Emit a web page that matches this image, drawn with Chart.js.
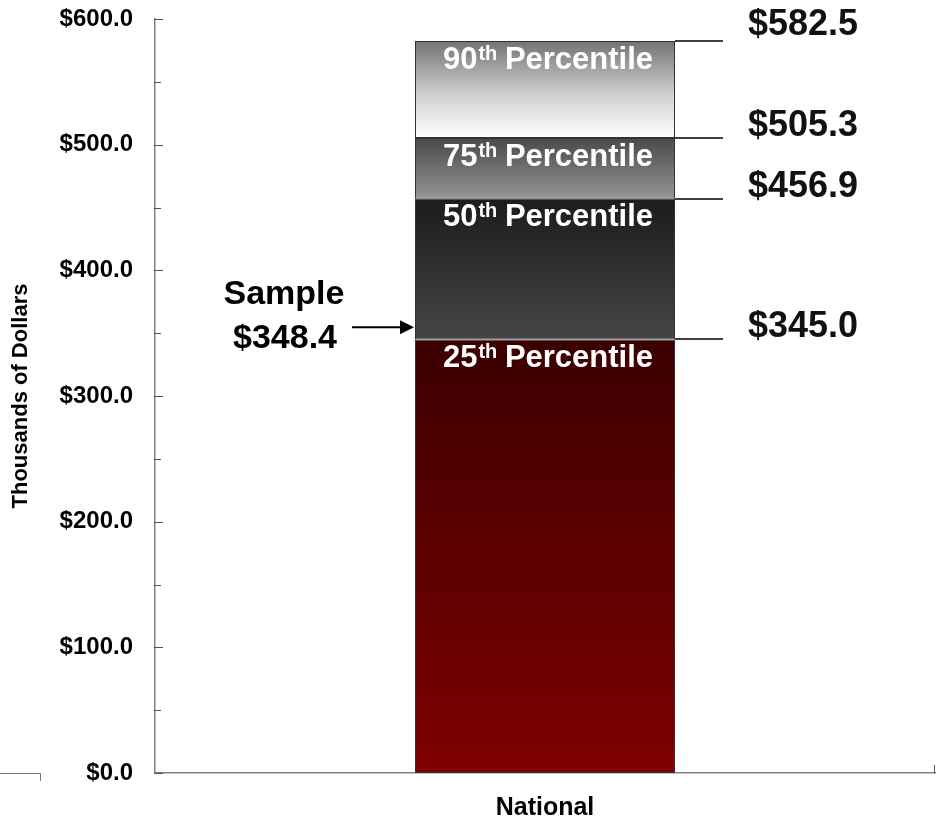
<!DOCTYPE html>
<html>
<head>
<meta charset="utf-8">
<script src="https://cdn.jsdelivr.net/npm/chart.js@4"></script>
<style>
  html, body { margin: 0; padding: 0; background: #fff; }
  #wrap { width: 946px; height: 823px; }
</style>
</head>
<body>
<div id="wrap"><canvas id="percentile-chart"></canvas></div>
<script>
const categories = ['National']
const percentileNames = ['25', '50', '75', '90']
const percentileTops = [345.0, 456.9, 505.3, 582.5]
const sampleLabel = 'Sample'
const sampleValue = 348.4
const yTicks = [0, 100, 200, 300, 400, 500, 600]

const FONT = '"Liberation Sans", Arial, Helvetica, sans-serif'

// gradient stops per segment (top -> bottom)
const segmentStops = [
    [[0, '#3a0000'], [1, '#800000']],
    [[0, '#1c1c1c'], [0.5, '#303030'], [1, '#454545']],
    [[0, '#4a4a4a'], [1, '#959595']],
    [[0, '#737373'], [0.55, '#d0d0d0'], [1, '#ffffff']]
]

const money = v => '$' + v.toFixed(1)

const datasets = percentileTops.map((top, i) => {
    const bottom = i === 0 ? 0 : percentileTops[i - 1]
    return {
        label: percentileNames[i] + 'th Percentile',
        data: [+(top - bottom).toFixed(1)],
        borderColor: '#333',
        borderWidth: 1,
        borderSkipped: false,
        barPercentage: 1,
        categoryPercentage: 1 / 3,
        backgroundColor(ctx) {
            const chart = ctx.chart
            if (!chart.chartArea) return segmentStops[i][0][1]
            const y = chart.scales.y
            const g = chart.ctx.createLinearGradient(0, y.getPixelForValue(top), 0, y.getPixelForValue(bottom))
            segmentStops[i].forEach(s => g.addColorStop(s[0], s[1]))
            return g
        }
    }
})

const annotations = {
    id: 'annotations',
    afterDraw(chart) {
        const ctx = chart.ctx
        const y = chart.scales.y
        const x = chart.scales.x
        const bar = chart.getDatasetMeta(0).data[0]
        const barLeft = bar.x - bar.width / 2
        const barRight = bar.x + bar.width / 2
        ctx.save()

        // inward tick marks on the y axis
        ctx.strokeStyle = '#555'
        ctx.lineWidth = 1
        for (let v = 0; v <= 600; v += 50) {
            const py = Math.round(y.getPixelForValue(v)) + 0.5
            ctx.beginPath()
            ctx.moveTo(y.right - 1, py)
            ctx.lineTo(y.right + (v % 100 === 0 ? 8 : 6), py)
            ctx.stroke()
        }
        // tick at right end of x axis
        ctx.beginPath()
        ctx.moveTo(x.right - 0.5, x.top)
        ctx.lineTo(x.right - 0.5, x.top - 8)
        ctx.stroke()
        // stray axis stub bottom-left
        ctx.strokeStyle = '#777'
        ctx.beginPath()
        ctx.moveTo(0, x.top + 0.5)
        ctx.lineTo(40.5, x.top + 0.5)
        ctx.lineTo(40.5, x.top + 8)
        ctx.stroke()

        // segment labels
        ctx.fillStyle = '#fff'
        ctx.textBaseline = 'middle'
        const big = 'bold 31px ' + FONT
        const sup = 'bold 20px ' + FONT
        percentileTops.forEach((top, i) => {
            const py = y.getPixelForValue(top) + 19
            const num = percentileNames[i]
            const rest = ' Percentile'
            ctx.font = big
            const wNum = ctx.measureText(num).width
            const wRest = ctx.measureText(rest).width
            ctx.font = sup
            const wSup = ctx.measureText('th').width
            const px = bar.x + 3 - (wNum + wSup + wRest) / 2
            ctx.textAlign = 'left'
            ctx.font = big
            ctx.fillText(num, px, py)
            ctx.font = sup
            ctx.fillText('th', px + wNum + 1, py - 6)
            ctx.font = big
            ctx.fillText(rest, px + wNum + wSup, py)
        })

        // leader lines and value labels on the right
        ctx.strokeStyle = '#000'
        ctx.lineWidth = 1.5
        ctx.fillStyle = '#111'
        ctx.font = 'bold 36px ' + FONT
        ctx.textAlign = 'center'
        percentileTops.forEach((top, i) => {
            const py = Math.round(y.getPixelForValue(top))
            ctx.beginPath()
            ctx.moveTo(barRight, py)
            ctx.lineTo(barRight + 48, py)
            ctx.stroke()
            const ly = i === percentileTops.length - 1 ? py - 16 : py - 12
            ctx.fillText(money(top), barRight + 128, ly)
        })

        // sample arrow
        const sy = y.getPixelForValue(sampleValue) - 8
        ctx.fillStyle = '#000'
        ctx.font = 'bold 34px ' + FONT
        ctx.fillText(sampleLabel, barLeft - 131, sy - 33)
        ctx.fillText(money(sampleValue), barLeft - 130, sy + 11)
        ctx.lineWidth = 2
        ctx.beginPath()
        ctx.moveTo(barLeft - 63, sy)
        ctx.lineTo(barLeft - 12, sy)
        ctx.stroke()
        ctx.beginPath()
        ctx.moveTo(barLeft - 1, sy)
        ctx.lineTo(barLeft - 15, sy - 7)
        ctx.lineTo(barLeft - 15, sy + 7)
        ctx.closePath()
        ctx.fill()

        ctx.restore()
    }
}

new Chart(document.getElementById('percentile-chart'), {
    type: 'bar',
    data: {
        labels: categories,
        datasets: datasets
    },
    options: {
        responsive: true,
        maintainAspectRatio: false,
        animation: false,
        layout: { padding: { left: 0, right: 11, top: 19, bottom: 0 } },
        plugins: {
            legend: { display: false },
            tooltip: { enabled: false }
        },
        scales: {
            x: {
                stacked: true,
                grid: { display: false, drawTicks: false },
                border: { display: true, color: '#808080', width: 1.5 },
                ticks: {
                    color: '#000',
                    padding: 20,
                    font: { family: FONT, size: 25, weight: 'bold' }
                },
                afterFit(scale) { scale.height = 50 }
            },
            y: {
                stacked: true,
                min: 0,
                max: 600,
                afterBuildTicks(scale) { scale.ticks = yTicks.map(v => ({ value: v })) },
                grid: { display: false, drawTicks: false },
                border: { display: true, color: '#808080', width: 1.5 },
                ticks: {
                    color: '#000',
                    padding: 22,
                    font: { family: FONT, size: 24, weight: 'bold' },
                    callback: v => money(v)
                },
                title: {
                    display: true,
                    text: 'Thousands of Dollars',
                    color: '#000',
                    font: { family: FONT, size: 22, weight: 'bold' },
                    padding: { top: 8, bottom: 0 }
                },
                afterFit(scale) {
                    scale.width = 155
                    scale.paddingTop = 0
                    scale.paddingBottom = 0
                }
            }
        }
    },
    plugins: [annotations]
})
</script>
</body>
</html>
